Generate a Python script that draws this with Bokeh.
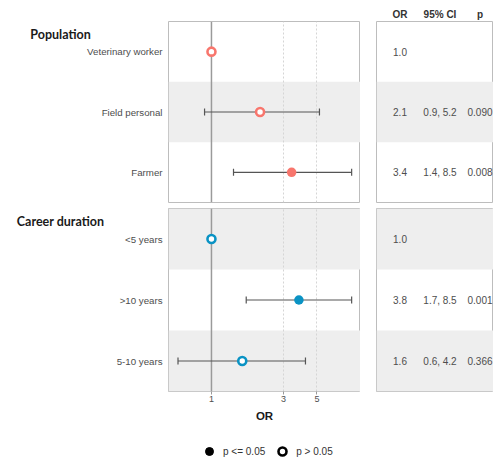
from bokeh.plotting import figure
from bokeh.models import (Range1d, ColumnDataSource, Span, Whisker, TeeHead,
                          FixedTicker, Legend, LegendItem, LinearAxis)
from bokeh.layouts import column, row
from bokeh.core.properties import value
from bokeh.embed import file_html
from bokeh.resources import INLINE

# ---------------- data ----------------
group_names = ["Population", "Career duration"]

pop_labels = ["Veterinary worker", "Field personal", "Farmer"]
pop_or = [1.0, 2.1, 3.4]
pop_lo = [None, 0.9, 1.4]
pop_hi = [None, 5.2, 8.5]
pop_p = [None, 0.090, 0.008]

car_labels = ["<5 years", ">10 years", "5-10 years"]
car_or = [1.0, 3.8, 1.6]
car_lo = [None, 1.7, 0.6]
car_hi = [None, 8.5, 4.2]
car_p = [None, 0.001, 0.366]

table_headers = ["OR", "95% CI", "p"]
or_ticks = [1, 3, 5]
legend_labels = ["p <= 0.05", "p > 0.05"]
alpha = 0.05

# ---------------- style ----------------
SALMON, BLUE = "#F8766D", "#0A93C4"
TEXT = "#4D4D4D"
DARK = "#1A1A1A"
BORDER = "#BDBDBD"
SHADE = "#EEEEEE"
CI_COL = "#555555"
FONT = "Liberation Sans"
HFONT = "Lato"

X_LO, X_HI = 0.519, 9.73
LAB_W, FOR_W, GAP, TAB_W = 168, 192, 16, 117
COL_X0, COL_DX = 23.5, 40.0
NAN = float("nan")


def base_fig(**kw):
    p = figure(toolbar_location=None, output_backend="svg", **kw)
    p.background_fill_color = "white"
    p.border_fill_color = "white"
    return p


def make_group(gname, labels, ors, los, his, ps, color, first_index,
               frame_h, top_b, bot_b, is_top, is_bottom):
    n = len(labels)
    ys = [n - i for i in range(n)]
    yr = (0.5, n + 0.5)
    shaded = [y for i, y in enumerate(ys) if (first_index + i) % 2 == 1]
    units_per_px = n / frame_h

    # ---- labels column ----
    lf = base_fig(frame_width=LAB_W, frame_height=frame_h,
                  x_range=Range1d(0, LAB_W), y_range=Range1d(*yr),
                  x_axis_type=None, y_axis_type=None,
                  min_border_left=0, min_border_right=0,
                  min_border_top=top_b, min_border_bottom=bot_b)
    lf.outline_line_color = None
    lf.text(x=[LAB_W - 6] * n, y=ys, text=labels, text_align="right",
            text_baseline="middle", text_font=value(FONT),
            text_font_size="9.7px", text_color=TEXT)
    lf.text(x=[60], y=[yr[1] - 13 * units_per_px], text=[gname],
            text_align="center", text_baseline="middle",
            text_font=value(HFONT), text_font_style="bold",
            text_font_size="12.5px", text_color=DARK)

    # ---- forest panel ----
    ff = base_fig(frame_width=FOR_W, frame_height=frame_h,
                  x_axis_type="log", x_range=Range1d(X_LO, X_HI),
                  y_range=Range1d(*yr),
                  x_axis_location="below" if is_bottom else None,
                  y_axis_location=None,
                  min_border_left=0, min_border_right=0,
                  min_border_top=top_b, min_border_bottom=bot_b)
    ff.outline_line_color = BORDER
    ff.outline_line_width = 1
    ff.ygrid.visible = False
    ff.xgrid.ticker = FixedTicker(ticks=or_ticks)
    ff.xgrid.grid_line_color = "#D5D5D5"
    ff.xgrid.grid_line_dash = "2 2"
    ff.xgrid.grid_line_width = 1
    if shaded:
        ff.hbar(y=shaded, left=X_LO, right=X_HI, height=1.0,
                fill_color=SHADE, line_color=None, level="image")
    ff.add_layout(Span(location=1, dimension="height", line_color="#9A9A9A",
                       line_width=1.5, level="underlay"))
    ci_idx = [i for i in range(n) if los[i] is not None]
    wsrc = ColumnDataSource(dict(base=[ys[i] for i in ci_idx],
                                 lower=[los[i] for i in ci_idx],
                                 upper=[his[i] for i in ci_idx]))
    ff.add_layout(Whisker(source=wsrc, base="base", lower="lower", upper="upper",
                          dimension="width", line_color=CI_COL, line_width=1.2,
                          upper_head=TeeHead(size=7, line_color=CI_COL, line_width=1.2),
                          lower_head=TeeHead(size=7, line_color=CI_COL, line_width=1.2),
                          level="underlay"))
    sig = [i for i in range(n) if ps[i] is not None and ps[i] <= alpha]
    nsig = [i for i in range(n) if not (ps[i] is not None and ps[i] <= alpha)]
    if nsig:
        ff.scatter(x=[ors[i] for i in nsig], y=[ys[i] for i in nsig],
                   marker="circle", size=8, fill_color="white",
                   line_color=color, line_width=2.6)
    if sig:
        ff.scatter(x=[ors[i] for i in sig], y=[ys[i] for i in sig],
                   marker="circle", size=9.5, fill_color=color, line_color=None)
    if is_bottom:
        ax = ff.xaxis[0]
        ax.ticker = FixedTicker(ticks=or_ticks)
        ax.major_label_overrides = {t: str(t) for t in or_ticks}
        ax.axis_line_color = None
        ax.major_tick_in = 0
        ax.major_tick_out = 3
        ax.major_tick_line_color = "#9A9A9A"
        ax.minor_tick_line_color = None
        ax.major_label_standoff = 1
        ax.major_label_text_font = FONT
        ax.major_label_text_font_size = "9px"
        ax.major_label_text_color = TEXT
        ax.axis_label = "OR"
        ax.axis_label_standoff = 5
        ax.axis_label_text_font = FONT
        ax.axis_label_text_font_style = "bold"
        ax.axis_label_text_font_size = "11.5px"
        ax.axis_label_text_color = DARK

    # ---- table panel ----
    x0 = -COL_X0 / COL_DX
    x1 = (TAB_W - COL_X0) / COL_DX
    tf = base_fig(frame_width=TAB_W, frame_height=frame_h,
                  x_range=Range1d(x0, x1), y_range=Range1d(*yr),
                  x_axis_type=None, y_axis_type=None,
                  min_border_left=GAP, min_border_right=0,
                  min_border_top=top_b, min_border_bottom=bot_b)
    tf.outline_line_color = BORDER
    tf.outline_line_width = 1
    if shaded:
        tf.hbar(y=shaded, left=x0, right=x1, height=1.0,
                fill_color=SHADE, line_color=None, level="image")
    or_txt = [f"{v:.1f}" for v in ors]
    ci_txt = [f"{los[i]:.1f}, {his[i]:.1f}" if los[i] is not None else "" for i in range(n)]
    p_txt = [f"{v:.3f}" if v is not None else "" for v in ps]
    for k, col in enumerate([or_txt, ci_txt, p_txt]):
        tf.text(x=[k] * n, y=ys, text=col, text_align="center",
                text_baseline="middle", text_font=value(FONT),
                text_font_size="10px", text_color=TEXT)
    if is_top:
        hdr = LinearAxis(ticker=FixedTicker(ticks=list(range(len(table_headers)))),
                         major_label_overrides={k: h for k, h in enumerate(table_headers)})
        hdr.axis_line_color = None
        hdr.major_tick_line_color = None
        hdr.minor_tick_line_color = None
        hdr.major_tick_in = 0
        hdr.major_tick_out = 0
        hdr.minor_tick_in = 0
        hdr.minor_tick_out = 0
        hdr.major_label_standoff = 2
        hdr.major_label_text_font = FONT
        hdr.major_label_text_font_style = "bold"
        hdr.major_label_text_font_size = "10px"
        hdr.major_label_text_color = "#333333"
        tf.add_layout(hdr, "above")
    return row(lf, ff, tf, spacing=0)


top = make_group(group_names[0], pop_labels, pop_or, pop_lo, pop_hi, pop_p,
                 SALMON, 0, 181, 21, 3, True, False)
bottom = make_group(group_names[1], car_labels, car_or, car_lo, car_hi, car_p,
                    BLUE, len(pop_labels), 183, 3, 30, False, True)

# ---- legend ----
TOTAL_W = LAB_W + FOR_W + GAP + TAB_W
lg = base_fig(frame_width=TOTAL_W, frame_height=37,
              x_range=Range1d(0, 1), y_range=Range1d(0, 1),
              x_axis_type=None, y_axis_type=None,
              min_border_left=0, min_border_right=0,
              min_border_top=0, min_border_bottom=0)
lg.outline_line_color = None
r1 = lg.scatter(x=[NAN], y=[NAN], marker="circle", size=8, fill_color="black",
                line_color="black")
r2 = lg.scatter(x=[NAN], y=[NAN], marker="circle", size=8, fill_color="white",
                line_color="black", line_width=2.6)
legend = Legend(items=[LegendItem(label=legend_labels[0], renderers=[r1]),
                       LegendItem(label=legend_labels[1], renderers=[r2])],
                orientation="horizontal", location=(199, 0),
                glyph_width=20, glyph_height=20, label_standoff=4, spacing=7,
                padding=0, margin=0, border_line_color=None,
                background_fill_alpha=0, label_text_font=FONT,
                label_text_font_size="10px", label_text_color="#333333")
lg.add_layout(legend)

layout = column(top, bottom, lg, spacing=0)

open("out.html", "w").write(file_html(layout, INLINE))
